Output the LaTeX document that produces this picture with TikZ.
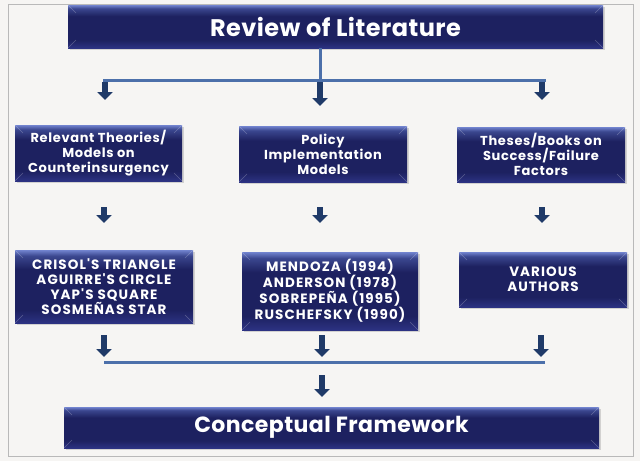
\documentclass[tikz,border=0pt]{standalone}
\usepackage{fontspec}
\setsansfont{Poppins}
\newfontfamily\boxfont[LetterSpace=5]{Poppins}
\newfontfamily\capsfont[LetterSpace=8]{Poppins}
\newfontfamily\titlefont[LetterSpace=2]{Poppins}
\usetikzlibrary{arrows.meta,shadows}

\definecolor{paper}{HTML}{F6F5F3}
\definecolor{boxtop}{HTML}{7284CF}
\definecolor{boxlight}{HTML}{3B478F}
\definecolor{boxmid}{HTML}{1D2160}
\definecolor{boxbot}{HTML}{2C3282}
\definecolor{linkcol}{HTML}{4C70AA}
\definecolor{arrowcol}{HTML}{1F3A68}

\pgfdeclareverticalshading{boxshade}{100bp}{color(0bp)=(boxbot); color(25bp)=(boxbot);
  color(34bp)=(boxmid); color(62bp)=(boxmid); color(71bp)=(boxlight);
  color(75bp)=(boxtop); color(100bp)=(boxtop)}

\tikzset{
    box/.style={shading=boxshade, text=white, align=center, inner sep=2pt,
        font=\boxfont\bfseries\fontsize{13}{15}\selectfont,
        drop shadow={shadow xshift=1.5pt, shadow yshift=-2pt, opacity=.3},
        path picture={
            \draw[white, opacity=.25]
                (path picture bounding box.north west) -- ++(8pt,-8pt)
                (path picture bounding box.north east) -- ++(-8pt,-8pt)
                (path picture bounding box.south west) -- ++(8pt,8pt)
                (path picture bounding box.south east) -- ++(-8pt,8pt);
        }},
    capsbox/.style={box, font=\capsfont\bfseries\fontsize{13.5}{15}\selectfont},
    bigbox/.style={box, font=\titlefont\bfseries\fontsize{24}{26}\selectfont},
    link/.style={linkcol, line width=3pt},
    arr/.style={arrowcol, line width=6pt, -{Triangle[width=15pt,length=8pt]}}
}

\begin{document}
\begin{tikzpicture}[x=1pt,y=-1pt]
    % Background
    \fill[paper] (0,0) rectangle (640,461);
    \draw[gray!55, thin] (8,4) rectangle (633,456);
    \useasboundingbox (0,0) rectangle (640,461);
    % Top
    \node[bigbox, minimum width=535pt, minimum height=43pt] (review) at (335.5,26.5) {Review of Literature};
    % First row
    \node[box, minimum width=167pt, minimum height=56pt] (theories) at (98.5,153)
        {Relevant Theories/\\Models on\\Counterinsurgency};
    \node[box, minimum width=168pt, minimum height=56pt] (policy) at (323,154)
        {Policy\\Implementation\\Models};
    \node[box, minimum width=168pt, minimum height=55pt] (theses) at (541,154.5)
        {Theses/Books on\\Success/Failure\\Factors};
    % Second row
    \node[capsbox, minimum width=178pt, minimum height=73pt] (crisol) at (104,286.5)
        {CRISOL'S TRIANGLE\\AGUIRRE'S CIRCLE\\YAP'S SQUARE\\SOSMEÑAS STAR};
    \node[capsbox, minimum width=176pt, minimum height=78pt] (mendoza) at (330,291)
        {MENDOZA (1994)\\ANDERSON (1978)\\SOBREPEÑA (1995)\\RUSCHEFSKY (1990)};
    \node[capsbox, minimum width=168pt, minimum height=55pt] (various) at (543,279.5)
        {VARIOUS\\AUTHORS};
    % Bottom
    \node[bigbox, font=\titlefont\bfseries\fontsize{22}{24}\selectfont,
        minimum width=535pt, minimum height=41pt] (framework) at (331.5,427.5) {Conceptual Framework};
    % Split below the top box
    \coordinate (split) at (320,80);
    \draw[link] (review.south -| split) -- (split);
    \draw[link] (103,80) -- (546,80);
    \foreach \x/\tip in {105/100, 320/106, 542/100}
        \draw[arr] (\x,82) -- (\x,\tip);
    % Between the rows
    \foreach \x in {104, 320, 542}
        \draw[arr] (\x,207) -- (\x,223);
    % Join above the bottom box
    \foreach \x in {104, 322, 541}
        \draw[arr] (\x,335) -- (\x,357);
    \draw[link] (104,362) -- (545,362);
    \draw[arr] (322,375) -- (322,397);
\end{tikzpicture}
\end{document}
